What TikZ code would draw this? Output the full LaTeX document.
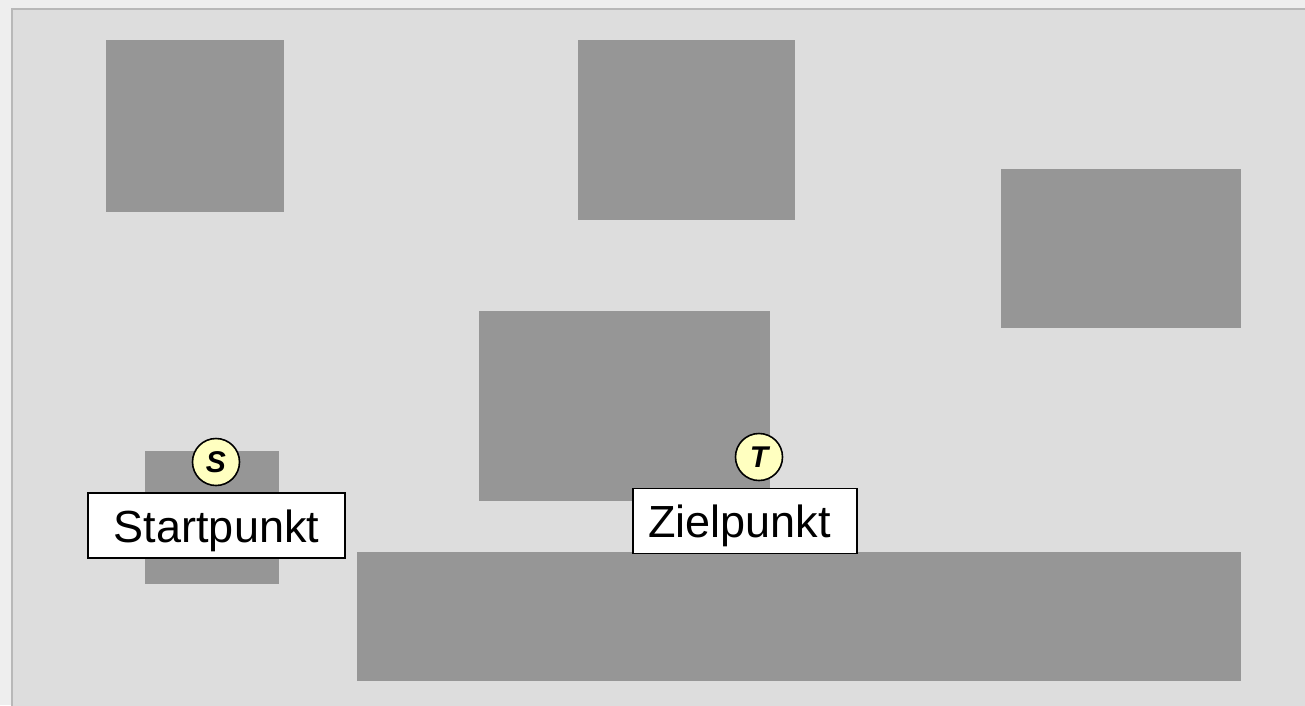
\documentclass[tikz,border=0pt]{standalone}
\usepackage{fontspec}
\setmainfont{Liberation Sans}
\definecolor{pagegray}{HTML}{EEEEEE}
\definecolor{fieldgray}{HTML}{DDDDDD}
\definecolor{framegray}{HTML}{B8B8B8}
\definecolor{blockgray}{HTML}{969696}
\definecolor{markyellow}{HTML}{FFFFC0}
\usetikzlibrary{positioning}

\begin{document}
\begin{tikzpicture}[x=1pt,y=-1pt,
        block/.style={fill=blockgray},
        marker/.style={circle,draw,line width=1.6pt,fill=markyellow,
                       minimum size=47pt,inner sep=0pt,
                       font=\fontsize{30}{30}\selectfont\bfseries\itshape},
        labelbox/.style={draw,line width=1.6pt,fill=white,inner sep=0pt,
                         minimum height=65pt,text height=33pt,text depth=0pt,
                         font=\fontsize{45}{50}\selectfont}]
        \useasboundingbox (0,0) rectangle (1305,705);
        \fill[pagegray] (0,0) rectangle (1305,705);
        \filldraw[fill=fieldgray,draw=framegray,line width=2pt] (12,8.5) rectangle (1320,720);
        % obstacles
        \fill[block] (106,40) rectangle (284,212);
        \fill[block] (578,40) rectangle (795,220);
        \fill[block] (1001,169) rectangle (1241,328);
        \fill[block] (479,311) rectangle (770,501);
        \fill[block] (145,451) rectangle (279,584);
        \fill[block] (357,552) rectangle (1241,681);
        % start and goal
        \node[labelbox,minimum width=257pt] (start) at (216.5,525.5) {Startpunkt};
        \node[marker] (s) at (216,462) {S};
        \node[labelbox,inner xsep=15pt] (goal) at (745,521) {\makebox[194pt][l]{Zielpunkt}};
        \node[marker] (t) at (759,457) {T};
\end{tikzpicture}
\end{document}
